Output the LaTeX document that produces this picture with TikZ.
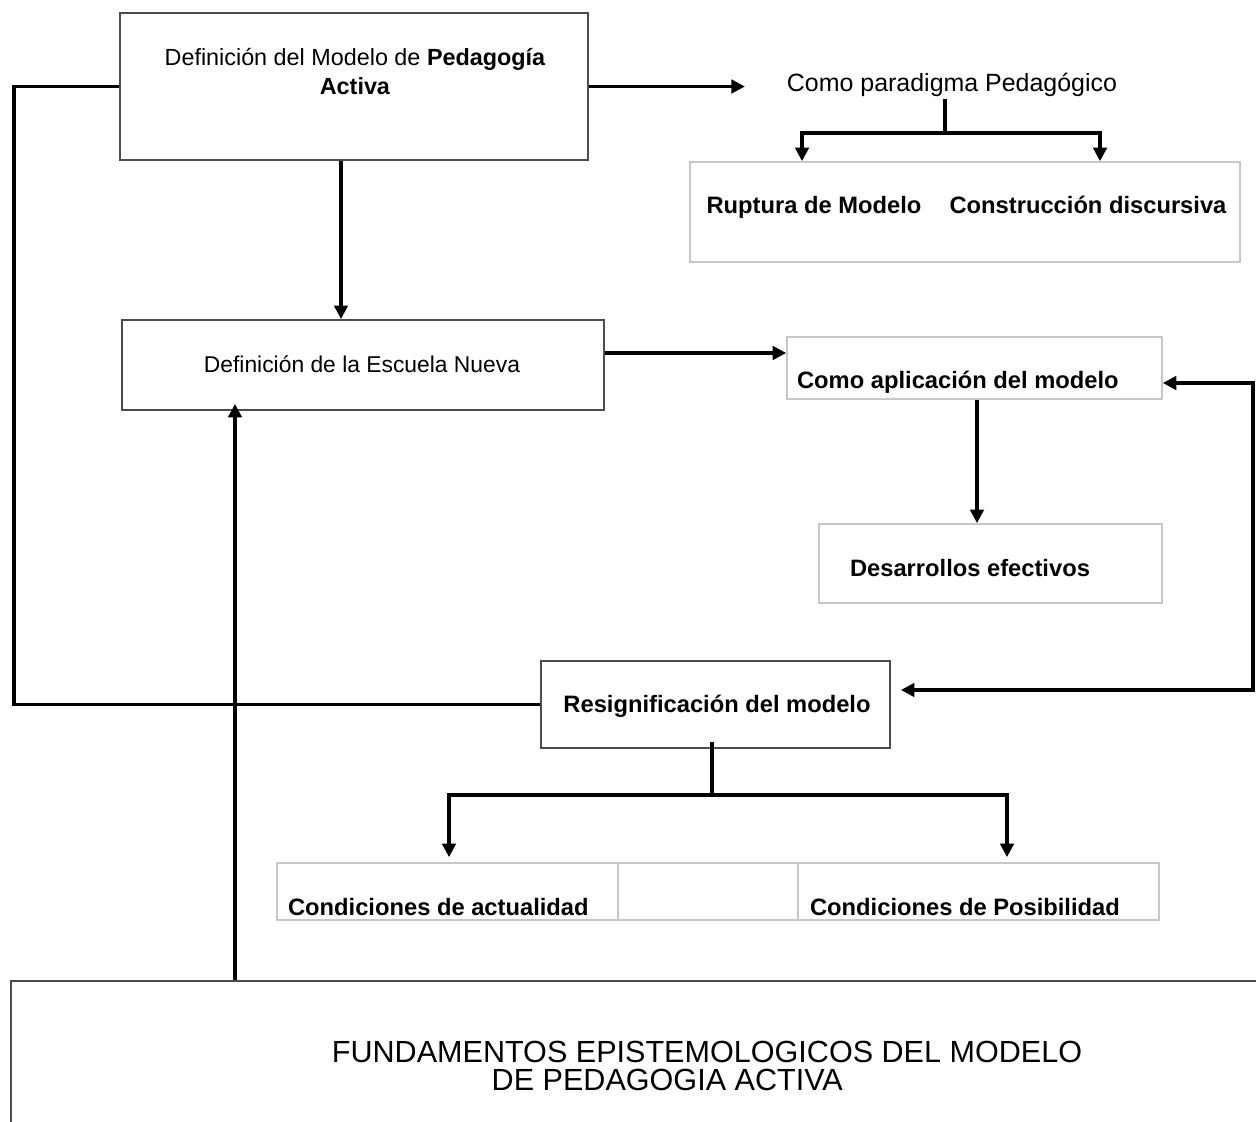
\documentclass[tikz,border=0pt]{standalone}
\usepackage{fontspec}
\setmainfont{Liberation Sans}
\usetikzlibrary{arrows.meta}
\begin{document}
\begin{tikzpicture}[x=0.02cm,y=-0.02cm,
  conn/.style={line width=1.8pt,line join=miter},
  arr/.style={conn,-{Triangle[length=0.27cm,width=0.27cm]}},
  darkbox/.style={draw=black!70,line width=1.1pt,inner sep=0pt},
  lightbox/.style={draw=black!22,line width=1pt,inner sep=0pt},
  lbl/.style={font=\fontsize{13.5pt}{16pt}\selectfont\bfseries,inner sep=1pt},
  plain/.style={font=\fontsize{13pt}{16.5pt}\selectfont,inner sep=1pt}]
\clip (0,0) rectangle (1256,1121);
\fill[white] (0,0) rectangle (1256,1121);
% boxes
\node[darkbox,minimum width=9.36cm,minimum height=2.94cm] (b1) at (354,86.5) {};
\node[lightbox,minimum width=11cm,minimum height=2cm] (rb) at (965,212) {};
\node[darkbox,minimum width=9.64cm,minimum height=1.8cm] (b2) at (363,365) {};
\node[lightbox,minimum width=7.5cm,minimum height=1.24cm] (b3) at (974.5,368) {};
\node[lightbox,minimum width=6.86cm,minimum height=1.58cm] (b4) at (990.5,563.5) {};
\node[darkbox,minimum width=6.98cm,minimum height=1.74cm] (b5) at (715.5,704.5) {};
\node[lightbox,minimum width=17.64cm,minimum height=1.14cm] (tbl) at (718,891.5) {};
\node[darkbox,minimum width=25.1cm,minimum height=3.18cm] (fb) at (638.5,1060.5) {};
\coordinate (d1) at (618,0);
\coordinate (d2) at (798,0);
\draw[draw=black!22,line width=1pt] (d1 |- tbl.north) -- (d1 |- tbl.south);
\draw[draw=black!22,line width=1pt] (d2 |- tbl.north) -- (d2 |- tbl.south);
% texts
\node[plain,align=center,font=\fontsize{13.3pt}{16.5pt}\selectfont] (t1) at (355,72) {Definición del Modelo de \textbf{Pedagogía}\\\textbf{Activa}};
\node[plain,font=\fontsize{14.2pt}{16pt}\selectfont] (para) at (952,85) {Como paradigma Pedagógico};
\node[lbl,anchor=base] (rupt) at (814,214) {Ruptura de Modelo};
\node[lbl,anchor=base] (cons) at (1088,214) {Construcción discursiva};
\node[plain] (t2) at (362,364) {Definición de la Escuela Nueva};
\node[lbl,anchor=west] (t3) at (795,382) {Como aplicación del modelo};
\node[lbl] (t4) at (970,568) {Desarrollos efectivos};
\node[lbl] (t5) at (717,706) {Resignificación del modelo};
\node[lbl,anchor=base west] (c1) at (286,915) {Condiciones de actualidad};
\node[lbl,anchor=base west] (c2) at (808,915) {Condiciones de Posibilidad};
\node[align=center,font=\fontsize{17.4pt}{16pt}\selectfont,inner sep=0pt] (ft) at (707,1066)
  {FUNDAMENTOS EPISTEMOLOGICOS DEL MODELO\\DE PEDAGOGIA ACTIVA\hspace*{2.6em}};
% connectors
\coordinate (xl) at (14,0);
\draw[conn] (b1.west) -- (xl |- b1.west) |- (b5.west);
\draw[arr,shorten >=0.8cm] (b1.east) -- (b1.east -| para.west);
\coordinate (pj) at (945,133);
\coordinate (aL) at (802,0);
\coordinate (aR) at (1100,0);
\draw[conn] (pj |- para.south) -- (pj);
\draw[arr] (pj) -| (aL |- rb.north);
\draw[arr] (pj) -| (aR |- rb.north);
\coordinate (x341) at (341,0);
\draw[arr] (x341 |- b1.south) -- (x341 |- b2.north);
\draw[arr] ([yshift=0.24cm]b2.east) -- ([yshift=0.24cm]b2.east -| b3.west);
\coordinate (x977) at (977,0);
\draw[arr] (x977 |- b3.south) -- (x977 |- b4.north);
\coordinate (rc) at (1253,540);
\draw[conn,{Triangle[length=0.27cm,width=0.27cm]}-{Triangle[length=0.27cm,width=0.27cm]},shorten >=0.2cm]
  ([yshift=-0.3cm]b3.east) -| (rc) |- ([yshift=0.29cm]b5.east);
\coordinate (bj) at (712,795);
\coordinate (bL) at (449,0);
\coordinate (bR) at (1007,0);
\draw[conn] (b5.south -| bj) ++(0,-7) -- (bj);
\draw[arr,shorten >=0.1cm] (bj) -| (bL |- tbl.north);
\draw[arr,shorten >=0.1cm] (bj) -| (bR |- tbl.north);
\coordinate (x235) at (235,0);
\draw[arr] (x235 |- fb.north) -- ([yshift=0.14cm]x235 |- b2.south);
\end{tikzpicture}
\end{document}
